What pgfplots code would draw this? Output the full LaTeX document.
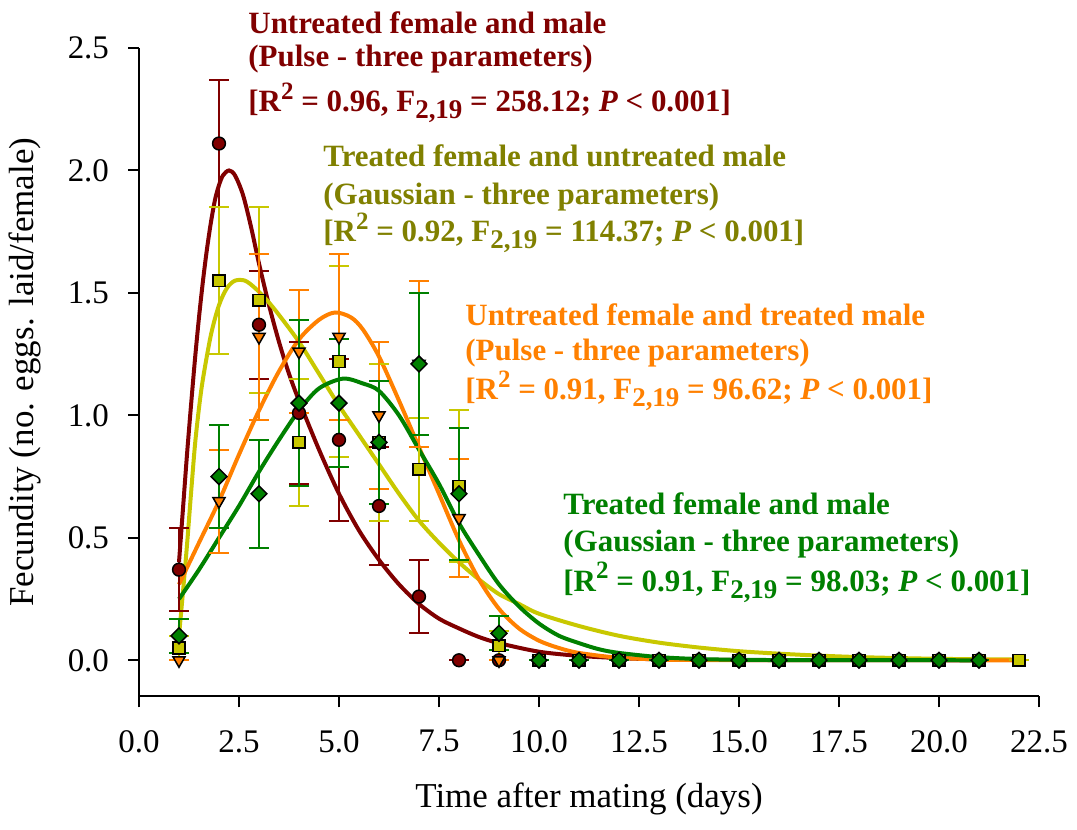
\documentclass[border=0pt]{standalone}
\usepackage{fontspec}
\setmainfont{Liberation Serif}
\usepackage{graphicx}
\usepackage{pgfplots}
\pgfplotsset{compat=1.18}
\definecolor{cred}{HTML}{800000}
\definecolor{cyel}{HTML}{C8C800}
\definecolor{colive}{HTML}{808000}
\definecolor{corange}{HTML}{FF8000}
\definecolor{cgreen}{HTML}{008000}
\newcommand{\stat}[2]{[R\raisebox{0.4em}{\fontsize{12.5}{12.5}\selectfont 2} = #1, F\raisebox{-0.22em}{\fontsize{13.5}{13.5}\selectfont 2,19} = #2; \textit{P} < 0.001]}

\pgfplotstableread{
x y e
1 0.37 0.17
2 2.11 0.26
3 1.37 0.22
4 1.01 0.29
5 0.90 0.33
6 0.63 0.24
7 0.26 0.15
8 0 0
9 0 0
10 0 0
11 0 0
12 0 0
13 0 0
14 0 0
15 0 0
16 0 0
17 0 0
18 0 0
19 0 0
20 0 0
21 0 0
}\redpts
\pgfplotstableread{
x y e
1 0.05 0.05
2 1.55 0.30
3 1.47 0.38
4 0.89 0.26
5 1.22 0.39
6 0.89 0.32
7 0.78 0.21
8 0.71 0.31
9 0.06 0.06
10 0 0
11 0 0
12 0 0
13 0 0
14 0 0
15 0 0
16 0 0
17 0 0
18 0 0
19 0 0
20 0 0
21 0 0
22 0 0
}\yelpts
\pgfplotstableread{
x y e
1 0 0
2 0.65 0.21
3 1.32 0.34
4 1.26 0.25
5 1.32 0.34
6 1.00 0.30
7 1.21 0.34
8 0.58 0.24
9 0 0
10 0 0
11 0 0
12 0 0
13 0 0
14 0 0
15 0 0
16 0 0
17 0 0
18 0 0
19 0 0
20 0 0
21 0 0
}\orapts
\pgfplotstableread{
x y e
1 0.10 0.07
2 0.75 0.21
3 0.68 0.22
4 1.05 0.34
5 1.05 0.26
6 0.89 0.25
7 1.21 0.29
8 0.68 0.27
9 0.11 0.07
10 0 0
11 0 0
12 0 0
13 0 0
14 0 0
15 0 0
16 0 0
17 0 0
18 0 0
19 0 0
20 0 0
21 0 0
}\grepts

\begin{document}
\begin{tikzpicture}
\begin{axis}[
  scale only axis, width=450.5pt, height=324.5pt,
  xmin=0, xmax=22.5, ymin=-0.147, ymax=2.5,
  axis x line*=bottom, axis y line*=left,
  xtick={0,2.5,...,22.5}, ytick={0,0.5,...,2.5},
  tick align=outside, major tick length=5.5pt,
  axis line style={line width=1pt}, tick style={line width=1pt, black},
  /pgf/number format/.cd, fixed, fixed zerofill, precision=1, assume math mode=true,
  /pgfplots/.cd,
  tick label style={font=\fontsize{16.5}{18}\selectfont},
  xticklabel shift=8pt, yticklabel shift=6pt,
  label style={font=\fontsize{17.5}{20}\selectfont},
  xlabel={Time after mating (days)},
  ylabel={Fecundity (no. eggs. laid/female)},
  xlabel style={at={(axis description cs:0.5,-0.1587)}, anchor=center},
  ylabel style={at={(axis description cs:-0.1265,0.5)}, anchor=center},
  clip=false,
]
% fitted curves
\addplot[cred, line width=2pt, smooth] coordinates {
(1,0.40)(1.1,0.62)(1.2,0.84)(1.3,1.04)(1.4,1.23)(1.5,1.40)(1.6,1.55)(1.7,1.68)(1.8,1.79)(1.9,1.88)(2.0,1.94)(2.1,1.98)(2.25,2.00)(2.4,1.98)(2.6,1.90)(2.8,1.77)(3.0,1.62)(3.25,1.45)(3.5,1.30)(3.75,1.17)(4.0,1.06)(4.5,0.86)(5.0,0.68)(5.5,0.53)(6.0,0.41)(6.5,0.31)(7.0,0.23)(7.5,0.17)(8.0,0.13)(8.5,0.095)(9.0,0.07)(10,0.035)(11,0.018)(12,0.009)(13,0.004)(15,0.001)(21,0)};
\addplot[cyel, line width=2pt, smooth] coordinates {
(1,0.10)(1.1,0.28)(1.2,0.47)(1.3,0.68)(1.4,0.88)(1.5,1.03)(1.6,1.15)(1.8,1.33)(2.0,1.45)(2.2,1.52)(2.4,1.55)(2.65,1.55)(2.9,1.52)(3.2,1.47)(3.5,1.41)(4.0,1.30)(4.5,1.17)(5.0,1.04)(5.5,0.92)(6.0,0.80)(6.5,0.68)(7.0,0.57)(7.5,0.48)(8.0,0.40)(8.5,0.33)(9.0,0.27)(9.5,0.23)(10,0.19)(11,0.14)(12,0.10)(13,0.072)(14,0.052)(15,0.037)(16,0.027)(17,0.019)(18,0.013)(19,0.009)(20,0.006)(21,0.004)(22,0.003)};
\addplot[corange, line width=2pt, smooth] coordinates {
(1,0.31)(1.5,0.48)(2,0.65)(2.5,0.84)(3,1.02)(3.5,1.18)(4,1.31)(4.5,1.39)(4.9,1.42)(5.3,1.40)(5.6,1.35)(6,1.24)(6.5,1.06)(7,0.87)(7.5,0.68)(8,0.49)(8.5,0.33)(9,0.21)(9.5,0.13)(10,0.08)(10.5,0.05)(11,0.03)(12,0.01)(13,0.004)(14,0.001)(22,0)};
\addplot[cgreen, line width=2pt, smooth] coordinates {
(1,0.25)(1.5,0.37)(2,0.50)(2.5,0.63)(3,0.77)(3.5,0.90)(4,1.02)(4.5,1.11)(5.1,1.15)(5.6,1.13)(6,1.10)(6.5,1.00)(7,0.86)(7.5,0.72)(8,0.56)(8.5,0.43)(9,0.31)(9.5,0.22)(10,0.15)(10.5,0.10)(11,0.07)(11.5,0.045)(12,0.03)(13,0.013)(14,0.005)(15,0.002)(16,0.001)(21,0)};
% points
\addplot[only marks, mark=*, mark size=3.2pt, mark options={fill=cred, draw=black, line width=0.75pt},
  error bars/.cd, y dir=both, y explicit,
  error bar style={cred, line width=1pt}, error mark options={rotate=90, cred, line width=1pt, mark size=5pt}]
  table[x=x, y=y, y error=e]{\redpts};
\addplot[only marks, mark=square*, mark size=2.9pt, mark options={fill=cyel, draw=black, line width=0.75pt},
  error bars/.cd, y dir=both, y explicit,
  error bar style={cyel, line width=1pt}, error mark options={rotate=90, cyel, line width=1pt, mark size=5pt}]
  table[x=x, y=y, y error=e]{\yelpts};
\addplot[only marks, mark=triangle*, mark size=3.5pt, mark options={fill=corange, draw=black, line width=0.75pt, rotate=180},
  error bars/.cd, y dir=both, y explicit,
  error bar style={corange, line width=1pt}, error mark options={rotate=90, corange, line width=1pt, mark size=5pt}]
  table[x=x, y=y, y error=e]{\orapts};
\addplot[only marks, mark=square*, mark size=2.8pt, mark options={fill=cgreen, draw=black, line width=0.75pt, rotate=45},
  error bars/.cd, y dir=both, y explicit,
  error bar style={cgreen, line width=1pt}, error mark options={rotate=90, cgreen, line width=1pt, mark size=5pt}]
  table[x=x, y=y, y error=e]{\grepts};
% annotations
\begin{scope}[every node/.style={anchor=base west, inner sep=0pt, font=\fontsize{15.5}{18}\selectfont\bfseries}]
\node[text=cred] at (axis cs:2.725,2.561) {Untreated female and male};
\node[text=cred] at (axis cs:2.725,2.4225) {(Pulse - three parameters)};
\node[text=cred] at (axis cs:2.725,2.239) {\stat{0.96}{258.12}};
\node[text=colive] at (axis cs:4.6,2.0147) {Treated female and untreated male};
\node[text=colive] at (axis cs:4.6,1.8605) {(Gaussian - three parameters)};
\node[text=colive] at (axis cs:4.6,1.7088) {\stat{0.92}{114.37}};
\node[text=corange] at (axis cs:8.15,1.3662) {Untreated female and treated male};
\node[text=corange] at (axis cs:8.15,1.2235) {(Pulse - three parameters)};
\node[text=corange] at (axis cs:8.15,1.0644) {\stat{0.91}{96.62}};
\node[text=cgreen] at (axis cs:10.6,0.5954) {Treated female and male};
\node[text=cgreen] at (axis cs:10.6,0.4445) {(Gaussian - three parameters)};
\node[text=cgreen] at (axis cs:10.6,0.2814) {\stat{0.91}{98.03}};
\end{scope}
\coordinate (bbll) at (axis cs:-3.475,-0.693);
\coordinate (bbur) at (axis cs:23.45,2.696);
\end{axis}
\pgfresetboundingbox
\path (bbll) rectangle (bbur);
\end{tikzpicture}
\end{document}
